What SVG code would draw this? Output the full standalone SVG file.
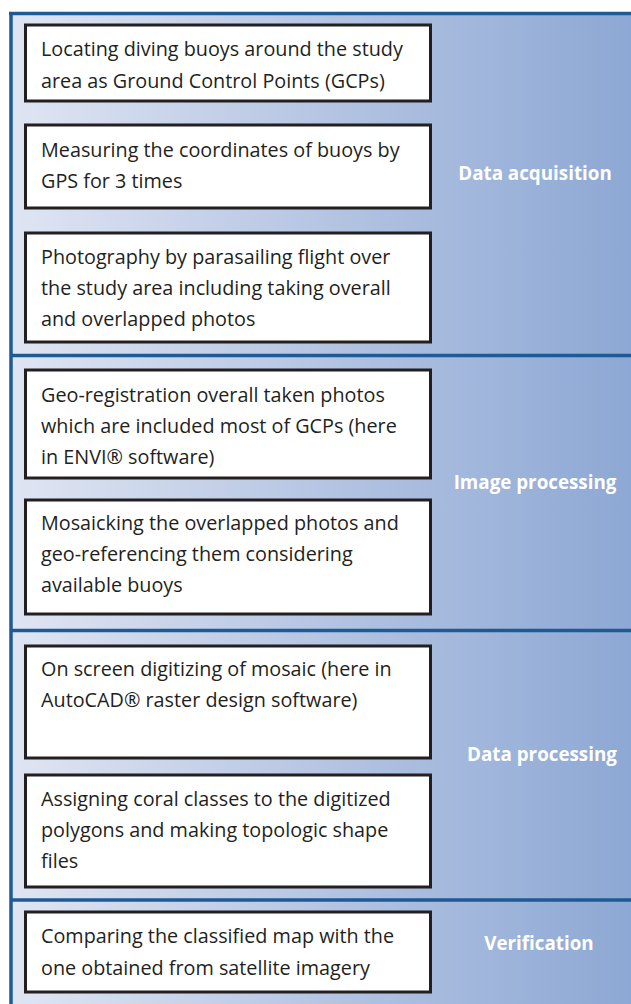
<svg xmlns="http://www.w3.org/2000/svg" width="631" height="1004" viewBox="0 0 631 1004">
<defs>
<linearGradient id="bg" gradientUnits="userSpaceOnUse" x1="13" y1="0" x2="631" y2="0">
<stop offset="0" stop-color="#dfe5f2"/>
<stop offset="0.5" stop-color="#b5c5e3"/>
<stop offset="1" stop-color="#8da8d4"/>
</linearGradient>
</defs>
<style>
.box{fill:#ffffff;stroke:#231f20;stroke-width:3}
.t{font-family:"Open Sans","Liberation Sans",Arial,sans-serif;font-size:19.8px;fill:#231f20}
.lab{font-family:"Open Sans","Liberation Sans",Arial,sans-serif;font-size:18.8px;font-weight:bold;fill:#ffffff;text-anchor:middle}
.bd{stroke:#1f5a94;stroke-width:3.5;fill:none}
</style>
<rect x="0" y="0" width="631" height="1004" fill="#ffffff"/>
<rect x="11" y="13" width="620" height="991" fill="url(#bg)"/>
<g id="borders">
<line class="bd" x1="9" y1="13.5" x2="631" y2="13.5"/>
<line class="bd" x1="11" y1="12" x2="11" y2="1004"/>
<line class="bd" x1="11" y1="355.5" x2="631" y2="355.5"/>
<line class="bd" x1="11" y1="630.5" x2="631" y2="630.5"/>
<line class="bd" x1="11" y1="900" x2="631" y2="900"/>
</g>
<g id="labels">
<text class="lab" x="535" y="180">Data acquisition</text>
<text class="lab" x="535" y="489">Image processing</text>
<text class="lab" x="542" y="761">Data processing</text>
<text class="lab" x="539" y="950">Verification</text>
</g>
<g id="n1"><rect class="box" x="25.5" y="25" width="405" height="76"/>
<text class="t" x="41" y="56">Locating diving buoys around the study</text>
<text class="t" x="41" y="88">area as Ground Control Points (GCPs)</text></g>
<g id="n2"><rect class="box" x="25.5" y="125" width="405" height="83"/>
<text class="t" x="41" y="157">Measuring the coordinates of buoys by</text>
<text class="t" x="41" y="188">GPS for 3 times</text></g>
<g id="n3"><rect class="box" x="25.5" y="233" width="405" height="109"/>
<text class="t" x="41" y="264">Photography by parasailing flight over</text>
<text class="t" x="41" y="295">the study area including taking overall</text>
<text class="t" x="41" y="326">and overlapped photos</text></g>
<g id="n4"><rect class="box" x="25.5" y="370" width="405" height="108"/>
<text class="t" x="41" y="402">Geo-registration overall taken photos</text>
<text class="t" x="41" y="433">which are included most of GCPs (here</text>
<text class="t" x="41" y="464">in ENVI® software)</text></g>
<g id="n5"><rect class="box" x="25.5" y="500" width="405" height="114"/>
<text class="t" x="41" y="530">Mosaicking the overlapped photos and</text>
<text class="t" x="41" y="561">geo-referencing them considering</text>
<text class="t" x="41" y="592">available buoys</text></g>
<g id="n6"><rect class="box" x="25.5" y="646" width="405" height="112"/>
<text class="t" x="41" y="676">On screen digitizing of mosaic (here in</text>
<text class="t" x="41" y="707">AutoCAD® raster design software)</text></g>
<g id="n7"><rect class="box" x="25.5" y="775" width="405" height="112"/>
<text class="t" x="41" y="806">Assigning coral classes to the digitized</text>
<text class="t" x="41" y="837">polygons and making topologic shape</text>
<text class="t" x="41" y="868">files</text></g>
<g id="n8"><rect class="box" x="25.5" y="912" width="405" height="80"/>
<text class="t" x="41" y="943">Comparing the classified map with the</text>
<text class="t" x="41" y="975">one obtained from satellite imagery</text></g>
<g id="connectors"></g>
</svg>
